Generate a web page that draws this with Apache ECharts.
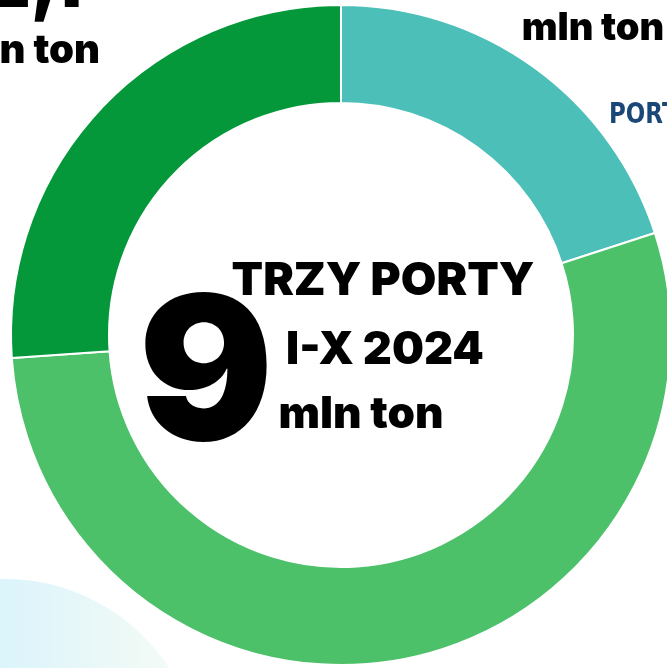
<!DOCTYPE html>
<html>
<head>
<meta charset="utf-8">
<script src="https://cdn.jsdelivr.net/npm/echarts@6/dist/echarts.min.js"></script>
<style>
  html, body { margin: 0; padding: 0; background: #fff; }
  #chart { width: 667px; height: 668px; }
</style>
</head>
<body>
<div id="chart"></div>
<script>
// udział portów w przeładunkach (mln ton), kolejność zgodnie z ruchem wskazówek zegara
var ports = ['Port A', 'Port B', 'Port C'];
var tonnage = [1.8, 4.85, 2.35];
var colors = ['#4bbfb8', '#4cc16a', '#05983a'];
var totalLabel = '9';
var titleLines = ['TRZY PORTY', 'I-X 2024', 'mln ton'];

(function () {
    var myChart = echarts.init(document.getElementById('chart'));
    var font = 'Inter, "DejaVu Sans", sans-serif';

    var option = {
        backgroundColor: '#fff',
        animation: false,
        graphic: [
            {
                type: 'circle', z: -10, silent: true,
                shape: { cx: 5, cy: 775, r: 196 },
                style: {
                    fill: new echarts.graphic.LinearGradient(0, 0, 1, 0, [
                        { offset: 0, color: '#d6f2fb' },
                        { offset: 0.5, color: '#dcf4fb' },
                        { offset: 1, color: '#f8fcf4' }
                    ])
                }
            },
            // fragmenty etykiet przyciętych przez kadr
            { type: 'text', style: { text: '2,1', x: 82, y: 21, textAlign: 'right', textVerticalAlign: 'bottom', font: '900 70px ' + font, fill: '#000' } },
            { type: 'text', style: { text: 'mln ton', x: 100, y: 51, textAlign: 'right', textVerticalAlign: 'middle', font: '900 40px ' + font, fill: '#000' } },
            { type: 'text', style: { text: '1,8', x: 600, y: -2, textAlign: 'center', textVerticalAlign: 'bottom', font: '900 70px ' + font, fill: '#000' } },
            { type: 'text', style: { text: 'mln ton', x: 593, y: 29, textAlign: 'center', textVerticalAlign: 'middle', font: '900 38px ' + font, fill: '#000' } },
            {
                type: 'text', x: 609, y: 116, scaleX: 0.82,
                style: { text: 'PORT', x: 0, y: 0, textAlign: 'left', textVerticalAlign: 'middle', font: 'bold 28px "DejaVu Sans", sans-serif', fill: '#1b4678' }
            },
            // środek pierścienia
            { type: 'text', style: { text: totalLabel, x: 206, y: 380, textAlign: 'center', textVerticalAlign: 'middle', font: '900 200px ' + font, fill: '#000' } },
            { type: 'text', style: { text: titleLines[0], x: 383, y: 281, textAlign: 'center', textVerticalAlign: 'middle', font: '900 46px ' + font, fill: '#000' } },
            { type: 'text', style: { text: titleLines[1], x: 385, y: 350, textAlign: 'center', textVerticalAlign: 'middle', font: '900 45px ' + font, fill: '#000' } },
            { type: 'text', style: { text: titleLines[2], x: 361, y: 415, textAlign: 'center', textVerticalAlign: 'middle', font: '900 44px ' + font, fill: '#000' } }
        ],
        series: [
            {
                type: 'pie',
                center: [341, 335],
                radius: [232, 330],
                startAngle: 90,
                clockwise: true,
                label: { show: false },
                labelLine: { show: false },
                itemStyle: { borderColor: '#fff', borderWidth: 2 },
                data: ports.map(function (p, i) {
                    return { name: p, value: tonnage[i], itemStyle: { color: colors[i] } };
                })
            }
        ]
    };

    myChart.setOption(option);
    window.addEventListener('resize', function () {
        myChart.resize();
    });
})();
</script>
</body>
</html>
